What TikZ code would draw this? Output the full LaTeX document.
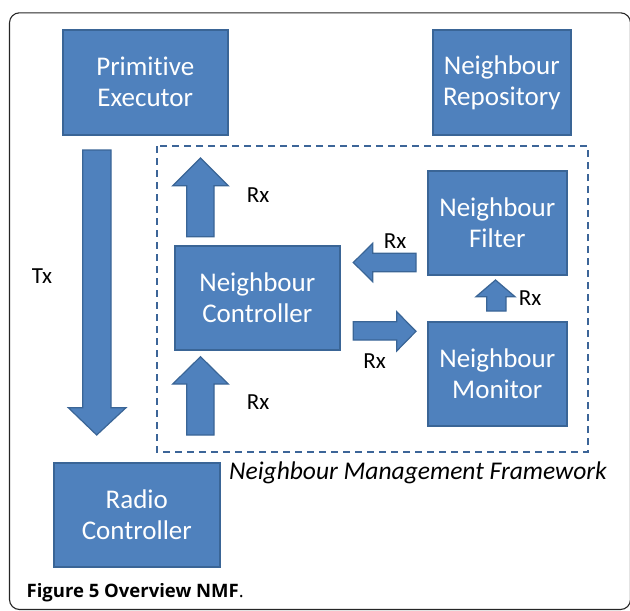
\documentclass[tikz,border=0pt]{standalone}
\usepackage{fontspec}
\setmainfont{Carlito}[Ligatures={NoCommon}]
\newfontfamily\capfont{Open Sans}
\definecolor{boxblue}{HTML}{4F81BD}
\definecolor{boxedge}{HTML}{3A6596}
\definecolor{dashblue}{HTML}{3C6598}
\begin{document}
\begin{tikzpicture}[x=1pt,y=-1pt,
  block/.style={draw=boxedge,fill=boxblue,line width=1.6pt,text=white,align=center,
    inner sep=0pt,anchor=north west,font=\fontsize{27}{31}\selectfont},
  barrow/.style={draw=boxedge,fill=boxblue,line width=1.2pt,line join=miter},
  lbl/.style={font=\fontsize{23}{27}\selectfont,inner sep=0pt}]
\useasboundingbox (0,0) rectangle (630,611);
% outer frame
\draw[line width=1.1pt,rounded corners=10pt,black!85] (9.5,12.8) rectangle (630.5,609.5);
% boxes
\node[block,minimum width=165pt,minimum height=105pt] (pe) at (62,29) {Primitive\\Executor};
\node[block,minimum width=138pt,minimum height=105pt] (nr) at (432,29) {Neighbour\\Repository};
\node[block,minimum width=165pt,minimum height=104pt] (nc) at (174,245) {Neighbour\\Controller};
\node[block,minimum width=139pt,minimum height=104pt] (nf) at (427,170) {Neighbour\\Filter};
\node[block,minimum width=139pt,minimum height=104pt] (nm) at (427,321) {Neighbour\\Monitor};
\node[block,minimum width=166pt,minimum height=104pt] (rc) at (53,462) {Radio\\Controller};
% dashed framework
\draw[dashblue,line width=1.6pt,dash pattern=on 7pt off 5pt] (157,146) rectangle (588,452);
\node[lbl,font=\fontsize{25.5}{29}\selectfont\itshape,anchor=west] (nmf) at (229,473) {Neighbour Management Framework};
% block arrows
\draw[barrow] (82.7,150) -- (111,150) -- (111,407.7) -- (126,407.7) -- (96.7,435) -- (68.3,407.7) -- (82.7,407.7) -- cycle;
\draw[barrow] (186.7,236.7) -- (186.7,185.7) -- (172.7,185.7) -- (200.5,158) -- (228.3,185.7) -- (214,185.7) -- (214,236.7) -- cycle;
\draw[barrow] (186.7,435) -- (186.7,384) -- (172.7,384) -- (200.5,356.7) -- (228.3,384) -- (214,384) -- (214,435) -- cycle;
\draw[barrow] (416,253.3) -- (372.7,253.3) -- (372.7,243.3) -- (353.3,262.5) -- (372.7,281.7) -- (372.7,271.7) -- (416,271.7) -- cycle;
\draw[barrow] (353.3,321.7) -- (396.7,321.7) -- (396.7,311.7) -- (416,331.3) -- (396.7,351) -- (396.7,340) -- (353.3,340) -- cycle;
\draw[barrow] (486.7,311) -- (486.7,296.7) -- (476,296.7) -- (495.5,280) -- (515,296.7) -- (506,296.7) -- (506,311) -- cycle;
% labels
\node[lbl] (tx) at (42,276) {Tx};
\node[lbl] (rx1) at (258,195) {Rx};
\node[lbl] (rx2) at (258,402) {Rx};
\node[lbl] (rx3) at (395,241) {Rx};
\node[lbl] (rx4) at (374.5,361) {Rx};
\node[lbl] (rx5) at (530,298) {Rx};
% caption
\node[anchor=base west,inner sep=0pt,font=\capfont\fontsize{18.5}{22}\selectfont] (cap) at (26.5,597) {\textbf{Figure 5 Overview NMF}.};
\end{tikzpicture}
\end{document}
